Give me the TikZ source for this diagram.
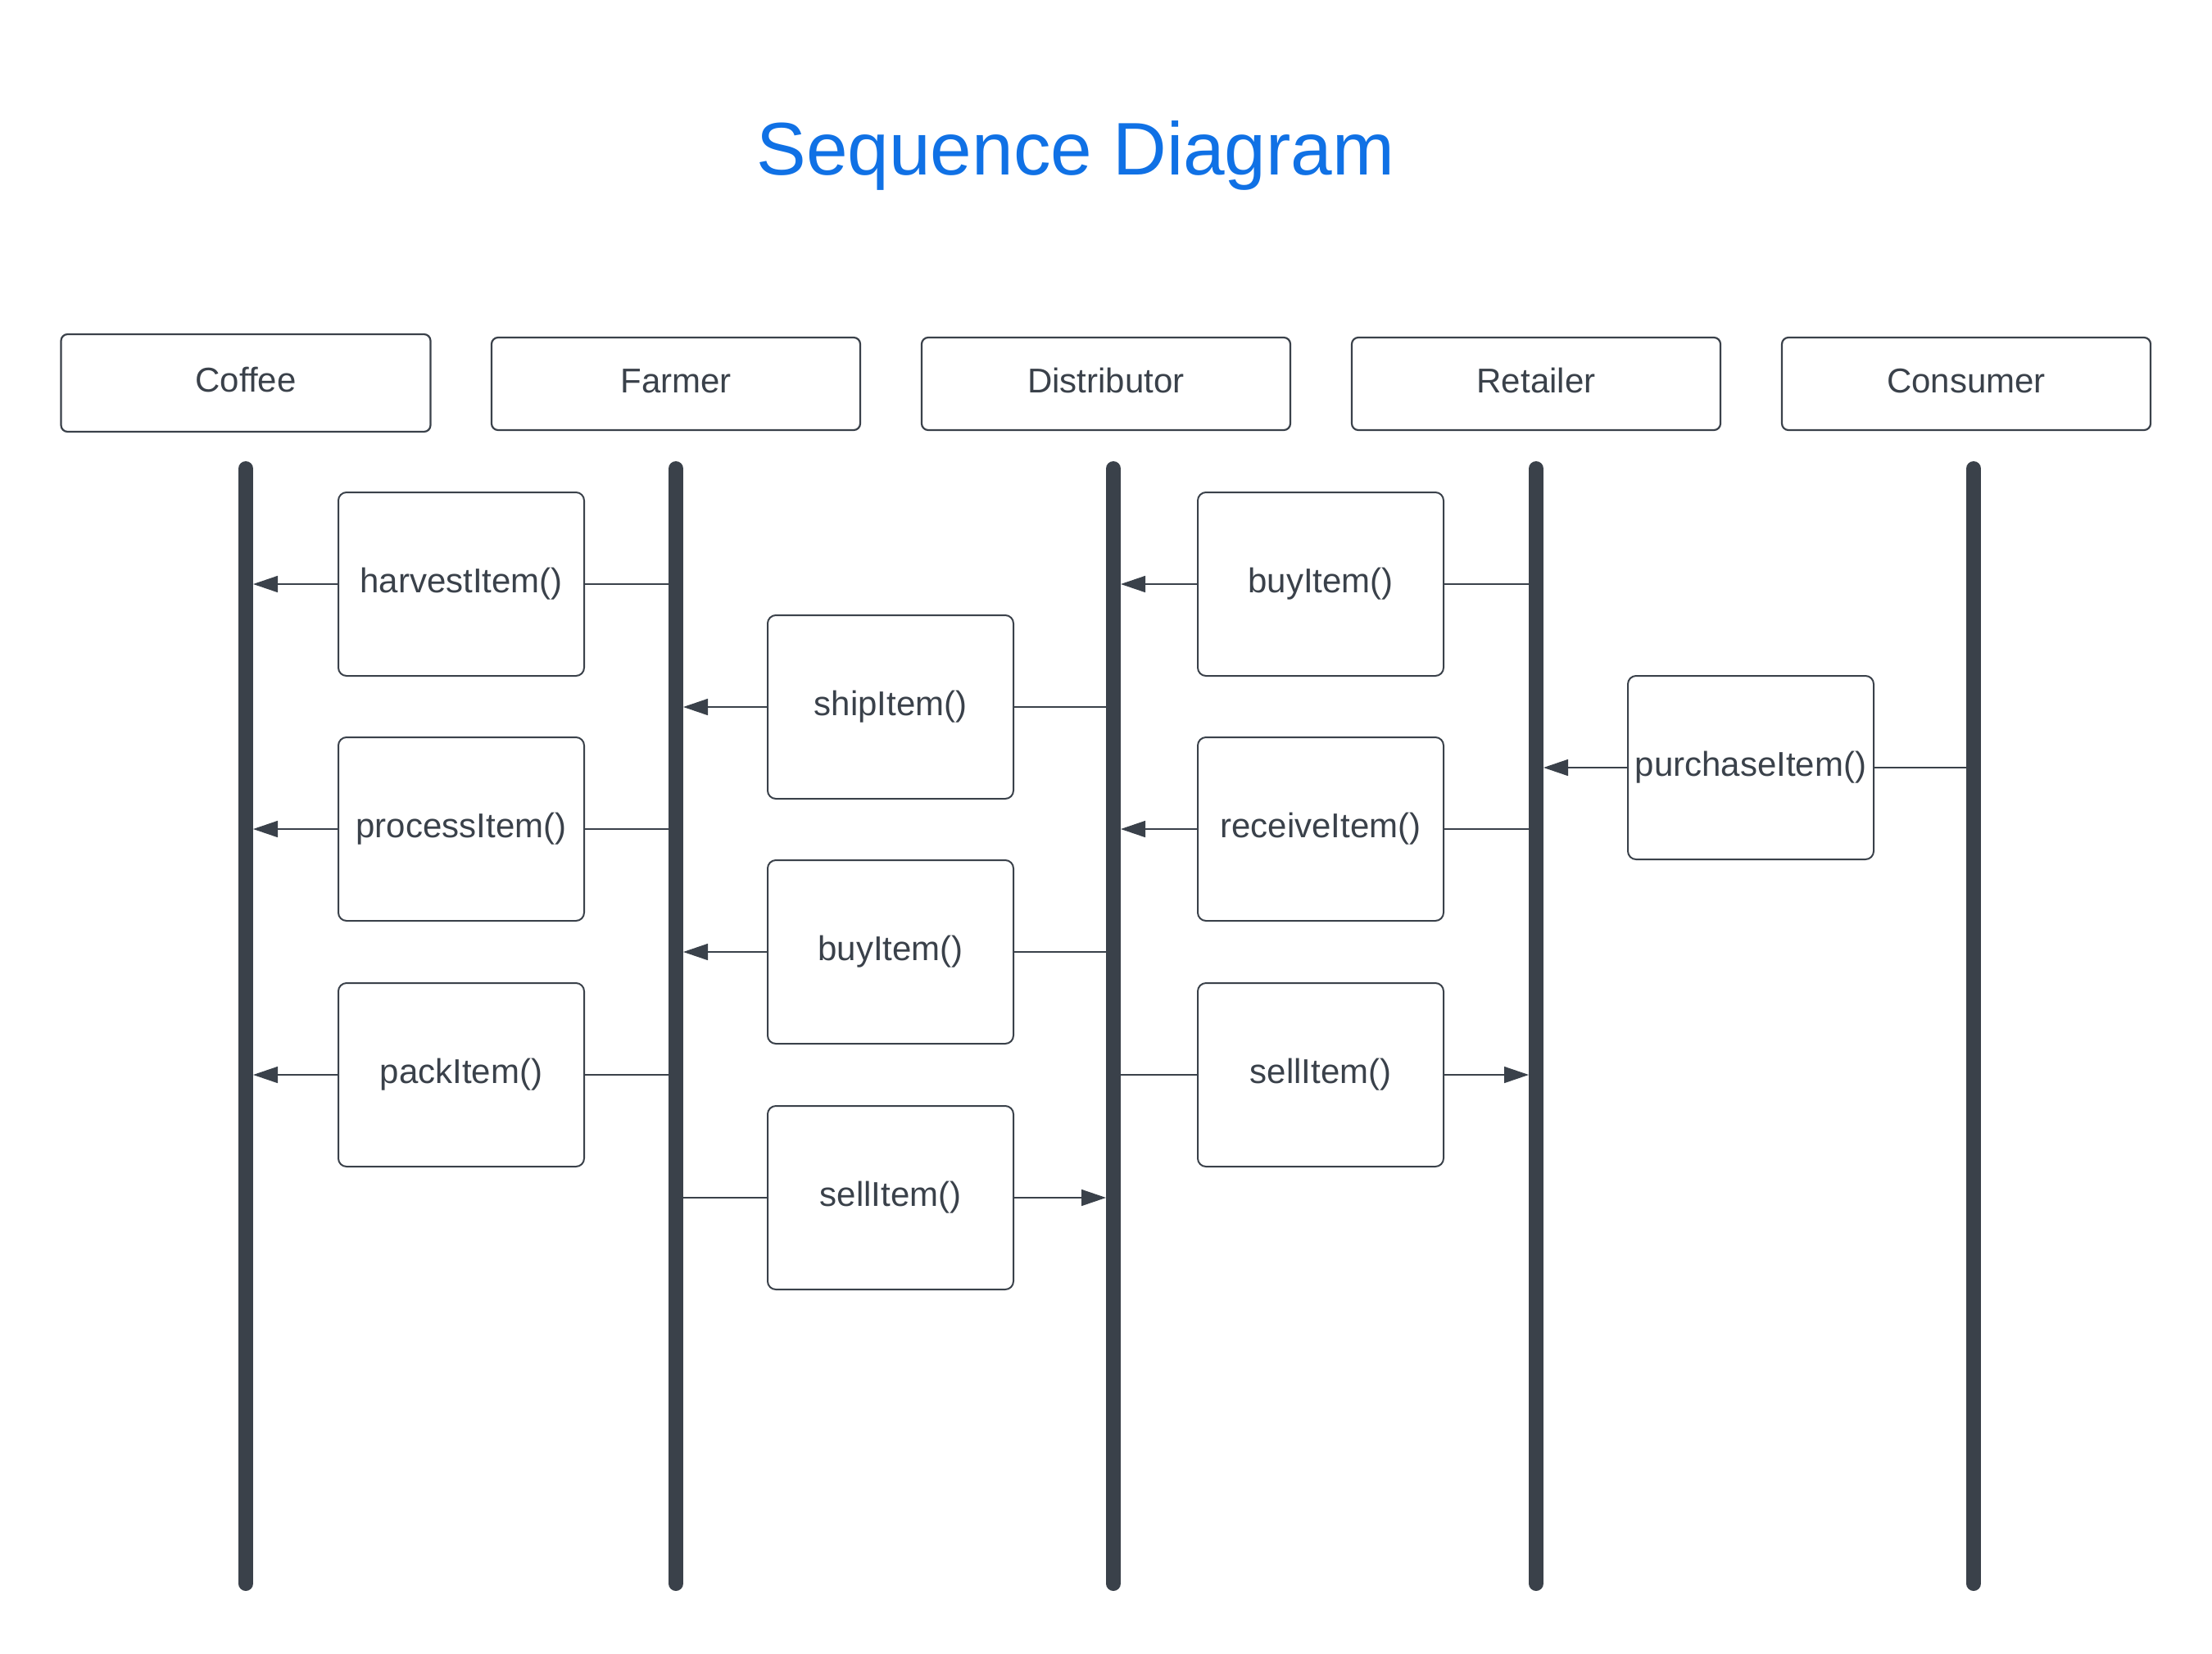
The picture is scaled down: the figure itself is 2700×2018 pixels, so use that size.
\documentclass[tikz,border=0pt]{standalone}
\usepackage{fontspec}
\setmainfont{Liberation Sans}
\usetikzlibrary{positioning,arrows.meta}
\definecolor{ink}{HTML}{3A414A}
\definecolor{titleblue}{HTML}{1071E5}
\tikzstyle{actor} = [draw=ink, line width=2.2pt, rectangle, rounded corners=8pt, minimum height=113pt, minimum width=450pt, text=ink, font=\fontsize{42}{50}\selectfont, text height=30pt, text depth=9pt]
\tikzstyle{call} = [draw=ink, line width=2pt, rectangle, rounded corners=10pt, minimum height=224pt, minimum width=300pt, text=ink, font=\fontsize{42}{50}\selectfont, text height=30pt, text depth=9pt]
\tikzstyle{lifeline} = [draw=ink, line width=18pt, line cap=round]
\tikzstyle{msg} = [draw=ink, line width=1.5pt]

\begin{document}
\begin{tikzpicture}[x=1pt,y=-1pt,>={Triangle[length=30pt,width=20pt]}]
		\useasboundingbox (0,0) rectangle (2700,2018);
		\node (title) [text=titleblue, font=\fontsize{91}{100}\selectfont] at (1313,190) {Sequence Diagram};
		
		\node (coffee) [actor, minimum height=119pt, minimum width=451pt] at (300,467.5) {Coffee};
		\node (farmer) [actor] at (825,468.5) {Farmer};
		\node (dist) [actor, right=72.8pt of farmer] {Distributor};
		\node (ret) [actor, right=72.8pt of dist] {Retailer};
		\node (cons) [actor, right=72.8pt of ret] {Consumer};
		
		\coordinate (coffeeL) at (300,572);
		\coordinate (farmerL) at (825,572);
		\coordinate (distL) at (1359,572);
		\coordinate (retL) at (1875,572);
		\coordinate (consL) at (2409,572);
		
		\node (harvest) [call] at (563,713) {harvestItem()};
		\node (process) [call] at (563,1012) {processItem()};
		\node (pack) [call] at (563,1312) {packItem()};
		\node (ship) [call] at (1087,863) {shipItem()};
		\node (buyF) [call] at (1087,1162) {buyItem()};
		\node (sellF) [call] at (1087,1462) {sellItem()};
		\node (buyD) [call] at (1612,713) {buyItem()};
		\node (receive) [call] at (1612,1012) {receiveItem()};
		\node (sellD) [call] at (1612,1312) {sellItem()};
		\node (purchase) [call] at (2137,937) {purchaseItem()};
		
		% farmer -> coffee
		\draw [msg, shorten <=9pt] (harvest.east -| farmerL) -- (harvest.east);
		\draw [msg, ->, shorten >=9pt] (harvest.west) -- (harvest.west -| coffeeL);
		\draw [msg, shorten <=9pt] (process.east -| farmerL) -- (process.east);
		\draw [msg, ->, shorten >=9pt] (process.west) -- (process.west -| coffeeL);
		\draw [msg, shorten <=9pt] (pack.east -| farmerL) -- (pack.east);
		\draw [msg, ->, shorten >=9pt] (pack.west) -- (pack.west -| coffeeL);
		
		% distributor <-> farmer
		\draw [msg, shorten <=9pt] (ship.east -| distL) -- (ship.east);
		\draw [msg, ->, shorten >=9pt] (ship.west) -- (ship.west -| farmerL);
		\draw [msg, shorten <=9pt] (buyF.east -| distL) -- (buyF.east);
		\draw [msg, ->, shorten >=9pt] (buyF.west) -- (buyF.west -| farmerL);
		\draw [msg, shorten <=9pt] (sellF.west -| farmerL) -- (sellF.west);
		\draw [msg, ->, shorten >=9pt] (sellF.east) -- (sellF.east -| distL);
		
		% retailer <-> distributor
		\draw [msg, shorten <=9pt] (buyD.east -| retL) -- (buyD.east);
		\draw [msg, ->, shorten >=9pt] (buyD.west) -- (buyD.west -| distL);
		\draw [msg, shorten <=9pt] (receive.east -| retL) -- (receive.east);
		\draw [msg, ->, shorten >=9pt] (receive.west) -- (receive.west -| distL);
		\draw [msg, shorten <=9pt] (sellD.west -| distL) -- (sellD.west);
		\draw [msg, ->, shorten >=9pt] (sellD.east) -- (sellD.east -| retL);
		
		% consumer -> retailer
		\draw [msg, shorten <=9pt] (purchase.east -| consL) -- (purchase.east);
		\draw [msg, ->, shorten >=9pt] (purchase.west) -- (purchase.west -| retL);
		
		\draw [lifeline] (coffeeL) -- ++(0,1361);
		\draw [lifeline] (farmerL) -- ++(0,1361);
		\draw [lifeline] (distL) -- ++(0,1361);
		\draw [lifeline] (retL) -- ++(0,1361);
		\draw [lifeline] (consL) -- ++(0,1361);
	\end{tikzpicture}
\end{document}
